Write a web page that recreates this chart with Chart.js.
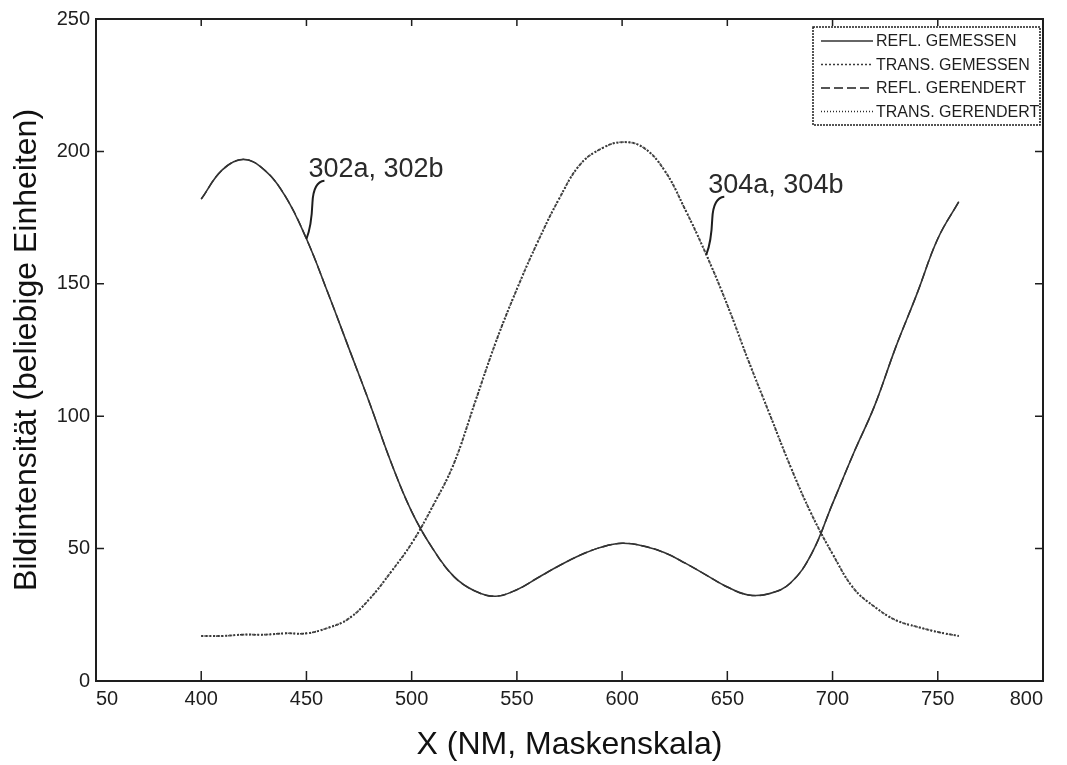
<!DOCTYPE html>
<html>
<head>
<meta charset="utf-8">
<title>Bildintensität</title>
<script src="https://cdn.jsdelivr.net/npm/chart.js@4.4.1/dist/chart.umd.min.js"></script>
<style>
    html, body { margin: 0; padding: 0; background: #fff; }
    #wrap { width: 1067px; height: 765px; }
</style>
</head>
<body>
<div id="wrap"><canvas id="chart" width="1067" height="765"></canvas></div>
<script>
/* ================= DATA ================= */
const xNm = [400, 410, 420, 430, 440, 450, 460, 470, 480, 490,
             500, 510, 520, 530, 540, 550, 560, 570, 580, 590,
             600, 610, 620, 630, 640, 650, 660, 670, 680, 690,
             700, 710, 720, 730, 740, 750, 760];

const reflMeasured = [182, 193, 197, 193, 183, 167, 147, 126, 105, 83,
                      64, 50, 39.5, 34, 32, 34.5, 39, 43.5, 47.5, 50.5,
                      52, 51, 48.5, 44.5, 40, 35.5, 32.5, 33, 37, 48,
                      67, 86, 104, 126, 146, 167, 181];

const transMeasured = [17, 17, 17.5, 17.5, 18, 18, 20, 23.5, 31, 41,
                       52, 66, 82, 105, 128, 148, 166, 182, 195, 201,
                       203.5, 201.5, 193, 178, 161, 142, 121, 101, 81, 63,
                       48, 35, 28, 23, 20.5, 18.5, 17];

// rendered curves lie on top of the measured ones in the figure
const reflRendered = [182, 193, 197, 193, 183, 167, 147, 126, 105, 83,
                      64, 50, 39.5, 34, 32, 34.5, 39, 43.5, 47.5, 50.5,
                      52, 51, 48.5, 44.5, 40, 35.5, 32.5, 33, 37, 48,
                      67, 86, 104, 126, 146, 167, 181];

const transRendered = [17, 17, 17.5, 17.5, 18, 18, 20, 23.5, 31, 41,
                       52, 66, 82, 105, 128, 148, 166, 182, 195, 201,
                       203.5, 201.5, 193, 178, 161, 142, 121, 101, 81, 63,
                       48, 35, 28, 23, 20.5, 18.5, 17];

const seriesLabels = ['REFL. GEMESSEN', 'TRANS. GEMESSEN', 'REFL. GERENDERT', 'TRANS. GERENDERT'];

// the original figure prints "50" under its left edge
const xTickLabels = ['50', '400', '450', '500', '550', '600', '650', '700', '750', '800'];
const yTickLabels = ['0', '50', '100', '150', '200', '250'];

const annotations = [
    { text: '302a, 302b', x: 450, series: reflMeasured },
    { text: '304a, 304b', x: 640, series: transMeasured }
];

/* ================= HELPERS ================= */
const FONT = '"Liberation Sans", Arial, Helvetica, sans-serif';
const INK = '#1e1e1e';

function toPoints(values) {
    return xNm.map((x, i) => ({ x: x, y: values[i] }));
}

function makeSet(label, values, color, width, dash) {
    return {
        label: label,
        data: toPoints(values),
        borderColor: color,
        borderWidth: width,
        borderDash: dash,
        pointRadius: 0,
        fill: false,
        tension: 0.4
    };
}

/* ================= PLUGINS ================= */
// box round the plot with inward ticks, like the original
const framePlugin = {
    id: 'frame',
    afterDatasetsDraw(chart) {
        const { ctx, chartArea: a, scales } = chart;
        ctx.save();
        ctx.strokeStyle = INK;
        ctx.lineWidth = 2;
        ctx.setLineDash([]);
        ctx.strokeRect(a.left, a.top, a.right - a.left, a.bottom - a.top);

        ctx.lineWidth = 1.5;
        ctx.beginPath();
        scales.x.ticks.forEach(t => {
            if (t.value <= scales.x.min || t.value >= scales.x.max) return;
            const px = scales.x.getPixelForValue(t.value);
            ctx.moveTo(px, a.bottom); ctx.lineTo(px, a.bottom - 10);
            ctx.moveTo(px, a.top); ctx.lineTo(px, a.top + 7);
        });
        scales.y.ticks.forEach(t => {
            if (t.value <= scales.y.min || t.value >= scales.y.max) return;
            const py = scales.y.getPixelForValue(t.value);
            ctx.moveTo(a.left, py); ctx.lineTo(a.left + 8, py);
            ctx.moveTo(a.right, py); ctx.lineTo(a.right - 8, py);
        });
        ctx.stroke();
        ctx.restore();
    }
};

// legend box inside the top right corner of the plot
const legendBoxPlugin = {
    id: 'legendBox',
    afterDraw(chart) {
        const { ctx, chartArea: a } = chart;
        const boxW = 227, boxH = 98, rowH = 23.5;
        const left = a.right - boxW - 3, top = a.top + 8;
        ctx.save();
        ctx.fillStyle = '#fff';
        ctx.fillRect(left, top, boxW, boxH);
        ctx.strokeStyle = INK;
        ctx.lineWidth = 1.5;
        ctx.setLineDash([2, 1]);
        ctx.strokeRect(left, top, boxW, boxH);

        ctx.font = '16px ' + FONT;
        ctx.textBaseline = 'middle';
        ctx.textAlign = 'left';
        chart.data.datasets.forEach((ds, i) => {
            const y = top + 14 + i * rowH;
            ctx.strokeStyle = ds.borderColor;
            ctx.lineWidth = 1.5;
            ctx.setLineDash(ds.borderDash || []);
            ctx.beginPath();
            ctx.moveTo(left + 8, y);
            ctx.lineTo(left + 60, y);
            ctx.stroke();
            ctx.fillStyle = INK;
            ctx.fillText(ds.label, left + 63, y + 1);
        });
        ctx.restore();
    }
};

// "302a, 302b" style labels with a curly leader down to the curve
const calloutPlugin = {
    id: 'callouts',
    afterDraw(chart) {
        const { ctx, scales } = chart;
        ctx.save();
        annotations.forEach(an => {
            const idx = xNm.indexOf(an.x);
            const ax = scales.x.getPixelForValue(an.x);
            const ay = scales.y.getPixelForValue(an.series[idx]);
            ctx.strokeStyle = INK;
            ctx.lineWidth = 2;
            ctx.setLineDash([]);
            ctx.beginPath();
            ctx.moveTo(ax + 18, ay - 58);
            ctx.quadraticCurveTo(ax + 7, ay - 57, ax + 6, ay - 36);
            ctx.quadraticCurveTo(ax + 5, ay - 12, ax, ay);
            ctx.stroke();

            ctx.fillStyle = '#2a2a2a';
            ctx.font = '27px ' + FONT;
            ctx.textBaseline = 'alphabetic';
            ctx.textAlign = 'left';
            ctx.fillText(an.text, ax + 2, ay - 62);
        });
        ctx.restore();
    }
};

/* ================= CHART ================= */
function initChart() {
    const ctx = document.getElementById('chart').getContext('2d');
    new Chart(ctx, {
        type: 'line',
        data: {
            datasets: [
                makeSet(seriesLabels[0], reflMeasured, '#333333', 1.6, []),
                makeSet(seriesLabels[1], transMeasured, '#3a3a3a', 2, [2, 2]),
                makeSet(seriesLabels[2], reflRendered, '#1e1e1e', 1.4, [9, 4]),
                makeSet(seriesLabels[3], transRendered, '#2a2a2a', 1.6, [1, 2])
            ]
        },
        options: {
            responsive: false,
            animation: false,
            layout: { padding: { top: 19, right: 24, left: 0, bottom: 0 } },
            plugins: {
                legend: { display: false },
                tooltip: { enabled: false }
            },
            scales: {
                x: {
                    type: 'linear',
                    min: 350,
                    max: 800,
                    grid: { display: false, drawTicks: false },
                    border: { display: false },
                    afterFit: s => { s.height = 84; },
                    ticks: {
                        stepSize: 50,
                        align: 'inner',
                        padding: 6,
                        maxRotation: 0,
                        color: INK,
                        font: { family: FONT, size: 20 },
                        callback: (v, i) => xTickLabels[i]
                    },
                    title: {
                        display: true,
                        text: 'X (NM, Maskenskala)',
                        color: '#111',
                        font: { family: FONT, size: 32 },
                        padding: { top: 0, bottom: 1 }
                    }
                },
                y: {
                    min: 0,
                    max: 250,
                    grid: { display: false, drawTicks: false },
                    border: { display: false },
                    afterFit: s => { s.width = 96; },
                    ticks: {
                        stepSize: 50,
                        padding: 6,
                        color: INK,
                        font: { family: FONT, size: 20 },
                        callback: (v, i) => yTickLabels[i]
                    },
                    title: {
                        display: true,
                        text: 'Bildintensität (beliebige Einheiten)',
                        color: '#111',
                        font: { family: FONT, size: 32 },
                        padding: { top: 8, bottom: 0 }
                    }
                }
            }
        },
        plugins: [framePlugin, calloutPlugin, legendBoxPlugin]
    });
}

document.addEventListener('DOMContentLoaded', initChart);
</script>
</body>
</html>
